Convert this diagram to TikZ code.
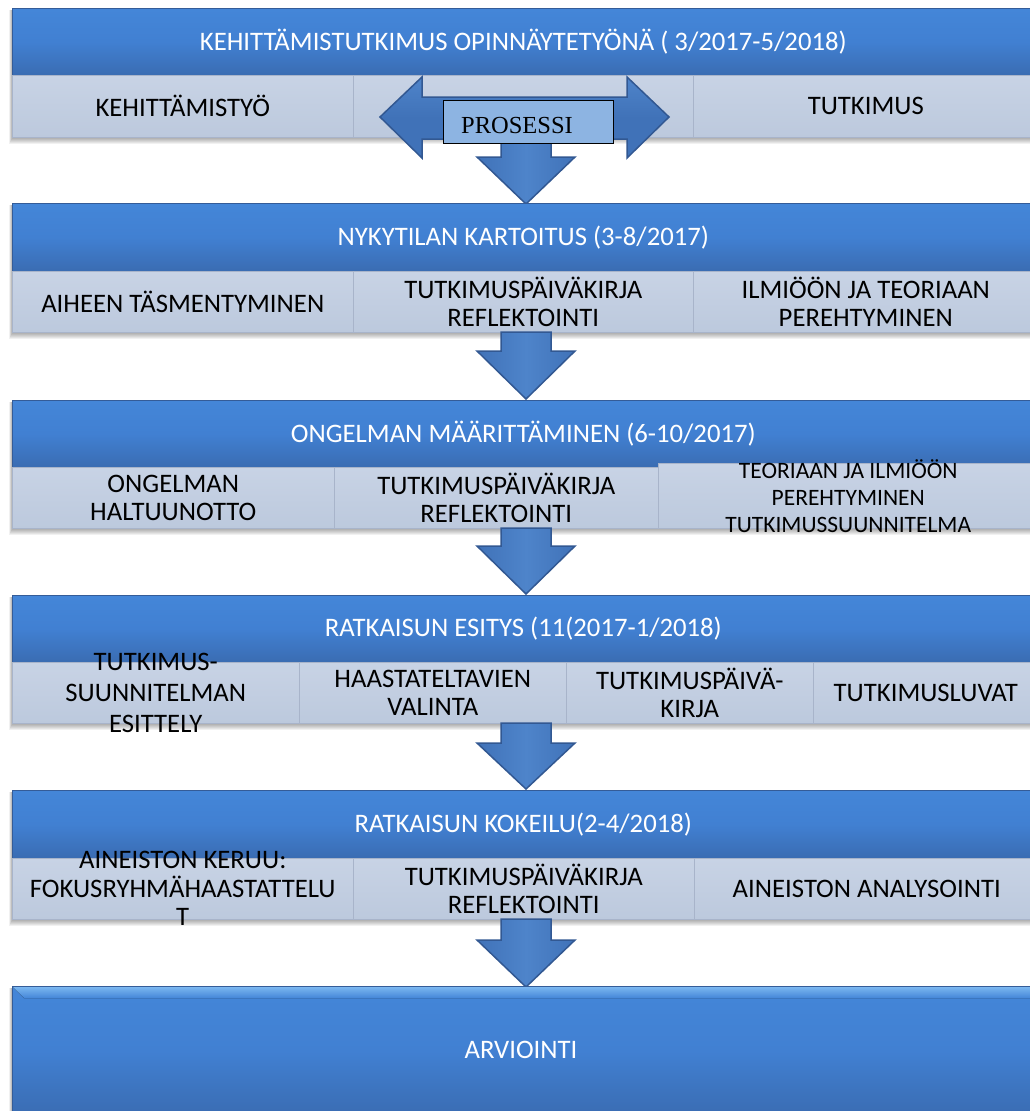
\documentclass[tikz,border=0pt]{standalone}
\usepackage{fontspec}
\setmainfont{Carlito}
\newfontfamily\seriffont{Liberation Serif}
\definecolor{hdrtop}{RGB}{68,134,216}
\definecolor{hdrmid}{RGB}{65,128,210}
\definecolor{hdrbot}{RGB}{58,108,178}
\definecolor{hdrline}{RGB}{52,92,152}
\definecolor{celltop}{RGB}{200,211,229}
\definecolor{cellbot}{RGB}{188,201,221}
\definecolor{cellline}{RGB}{168,180,202}
\definecolor{arrfill}{RGB}{64,114,184}
\definecolor{arrlight}{RGB}{78,132,202}
\definecolor{arrdark}{RGB}{50,88,146}
\definecolor{procfill}{RGB}{141,180,226}
\definecolor{bevel}{RGB}{122,182,240}
\newcommand{\softshadow}[4]{%
  \foreach \k in {0,...,6}{%
    \fill[black, opacity=0.055] (#1+\k*0.5,#2) rectangle (#3,#4+7-\k);}}
\begin{document}
\begin{tikzpicture}[x=1pt,y=-1pt,
  header/.style={anchor=north west, inner sep=0pt, minimum width=1022pt,
    top color=hdrtop, bottom color=hdrbot, middle color=hdrmid,
    draw=hdrline, line width=0.6pt},
  htext/.style={text=white, font=\fontsize{26.7}{28}\selectfont, inner sep=0pt},
  cell/.style={anchor=north west, inner sep=0pt,
    top color=celltop, bottom color=cellbot, draw=cellline, line width=0.5pt},
  ctext/.style={align=center, text=black, inner sep=0pt,
    font=\fontsize{26.7}{28.5}\selectfont},
  blockarrow/.style={left color=arrfill, right color=arrfill, middle color=arrlight,
    draw=arrdark, line width=1.5pt, line join=miter}
]
\useasboundingbox (0,0) rectangle (1030,1111);
\fill[white] (0,0) rectangle (1030,1111);

% ---------- Block 1
\softshadow{9}{10}{1040}{137}
\node[header, minimum height=67pt] (h1) at (12,8) {};
\node[htext] (h1t) at (h1.center) {KEHITTÄMISTUTKIMUS OPINNÄYTETYÖNÄ ( 3/2017-5/2018)};
\node[cell, minimum width=341pt, minimum height=62pt] (c11) at (12,75) {};
\node[cell, minimum width=340pt, minimum height=62pt] (c12) at (353,75) {};
\node[cell, minimum width=345pt, minimum height=62pt] (c13) at (693,75) {};
\node[ctext] (c11t) at (c11.center) {KEHITTÄMISTYÖ};
\node[ctext] (c13t) at (c13.center) {TUTKIMUS};

% down arrow 1 (behind process arrow)
\draw[blockarrow] (501,130) -- (551,130) -- (551,157) -- (575,157) -- (526,204) -- (477,157) -- (501,157) -- cycle;
% double arrow
\draw[blockarrow, top color=arrlight, bottom color=arrfill, middle color=arrfill]
  (380,117) -- (422,77) -- (422,97) -- (627,97) -- (627,77) -- (669,117)
  -- (627,158) -- (627,139) -- (422,139) -- (422,158) -- cycle;
\node[anchor=north west, draw=black, fill=procfill, line width=0.8pt,
  minimum width=170pt, minimum height=43pt, inner sep=0pt] (proc) at (443,100) {};
\node[anchor=base, inner sep=0pt, font=\seriffont\fontsize{24.5}{26}\selectfont] (proct) at (517,133) {PROSESSI};

% ---------- Block 2
\softshadow{9}{205}{1040}{332}
\node[header, minimum height=68pt] (h2) at (12,203) {};
\node[htext] (h2t) at (h2.center) {NYKYTILAN KARTOITUS (3-8/2017)};
\node[cell, minimum width=341pt, minimum height=61pt] (c21) at (12,271) {};
\node[cell, minimum width=340pt, minimum height=61pt] (c22) at (353,271) {};
\node[cell, minimum width=345pt, minimum height=61pt] (c23) at (693,271) {};
\node[ctext] (c21t) at (c21.center) {AIHEEN TÄSMENTYMINEN};
\node[ctext] (c22t) at (c22.center) {TUTKIMUSPÄIVÄKIRJA\\REFLEKTOINTI};
\node[ctext] (c23t) at (c23.center) {ILMIÖÖN JA TEORIAAN\\PEREHTYMINEN};
\draw[blockarrow] (501,332) -- (551,332) -- (551,351) -- (575,351) -- (526,399) -- (477,351) -- (501,351) -- cycle;

% ---------- Block 3
\softshadow{9}{402}{1040}{528}
\node[header, minimum height=67pt] (h3) at (12,400) {};
\node[htext] (h3t) at (h3.center) {ONGELMAN MÄÄRITTÄMINEN (6-10/2017)};
\node[cell, minimum width=322pt, minimum height=61pt] (c31) at (12,467) {};
\node[cell, minimum width=324pt, minimum height=61pt] (c32) at (334,467) {};
\node[cell, minimum width=380pt, minimum height=65pt] (c33) at (658,463) {};
\node[ctext] (c31t) at (c31.center) {ONGELMAN\\HALTUUNOTTO};
\node[ctext] (c32t) at (c32.center) {TUTKIMUSPÄIVÄKIRJA\\REFLEKTOINTI};
\node[ctext, font=\fontsize{23.5}{27}\selectfont] (c33t) at (c33.center) {TEORIAAN JA ILMIÖÖN\\PEREHTYMINEN\\TUTKIMUSSUUNNITELMA};
\draw[blockarrow] (501,528) -- (551,528) -- (551,546) -- (575,546) -- (526,594) -- (477,546) -- (501,546) -- cycle;

% ---------- Block 4
\softshadow{9}{597}{1040}{723}
\node[header, minimum height=67pt] (h4) at (12,595) {};
\node[htext] (h4t) at (h4.center) {RATKAISUN ESITYS (11(2017-1/2018)};
\node[cell, minimum width=287pt, minimum height=61pt] (c41) at (12,662) {};
\node[cell, minimum width=267pt, minimum height=61pt] (c42) at (299,662) {};
\node[cell, minimum width=247pt, minimum height=61pt] (c43) at (566,662) {};
\node[cell, minimum width=225pt, minimum height=61pt] (c44) at (813,662) {};
\node[ctext, font=\fontsize{26.7}{31}\selectfont] (c41t) at (c41.center) {TUTKIMUS-\\SUUNNITELMAN\\ESITTELY};
\node[ctext] (c42t) at (c42.center) {HAASTATELTAVIEN\\VALINTA};
\node[ctext] (c43t) at (c43.center) {TUTKIMUSPÄIVÄ-\\KIRJA};
\node[ctext] (c44t) at (c44.center) {TUTKIMUSLUVAT};
\draw[blockarrow] (501,723) -- (551,723) -- (551,743) -- (575,743) -- (526,789) -- (477,743) -- (501,743) -- cycle;

% ---------- Block 5
\softshadow{9}{792}{1040}{919}
\node[header, minimum height=68pt] (h5) at (12,790) {};
\node[htext] (h5t) at (h5.center) {RATKAISUN KOKEILU(2-4/2018)};
\node[cell, minimum width=341pt, minimum height=61pt] (c51) at (12,858) {};
\node[cell, minimum width=341pt, minimum height=61pt] (c52) at (353,858) {};
\node[cell, minimum width=345pt, minimum height=61pt] (c53) at (694,858) {};
\node[ctext] (c51t) at (c51.center) {AINEISTON KERUU:\\FOKUSRYHMÄHAASTATTELU\\T};
\node[ctext] (c52t) at (c52.center) {TUTKIMUSPÄIVÄKIRJA\\REFLEKTOINTI};
\node[ctext] (c53t) at (c53.center) {AINEISTON ANALYSOINTI};
\draw[blockarrow] (501,919) -- (551,919) -- (551,940) -- (575,940) -- (526,987) -- (477,940) -- (501,940) -- cycle;

% ---------- Block 6
\softshadow{9}{988}{1040}{1111}
\node[header, minimum height=130pt, top color=hdrtop, bottom color=hdrbot, middle color=hdrmid] (h6) at (12,986) {};
\fill[top color=bevel, bottom color=hdrtop] (13,987) -- (1034,987) -- (1034,998) -- (24,998) -- cycle;
\node[htext] (h6t) at (521,1050) {ARVIOINTI};
\end{tikzpicture}
\end{document}
